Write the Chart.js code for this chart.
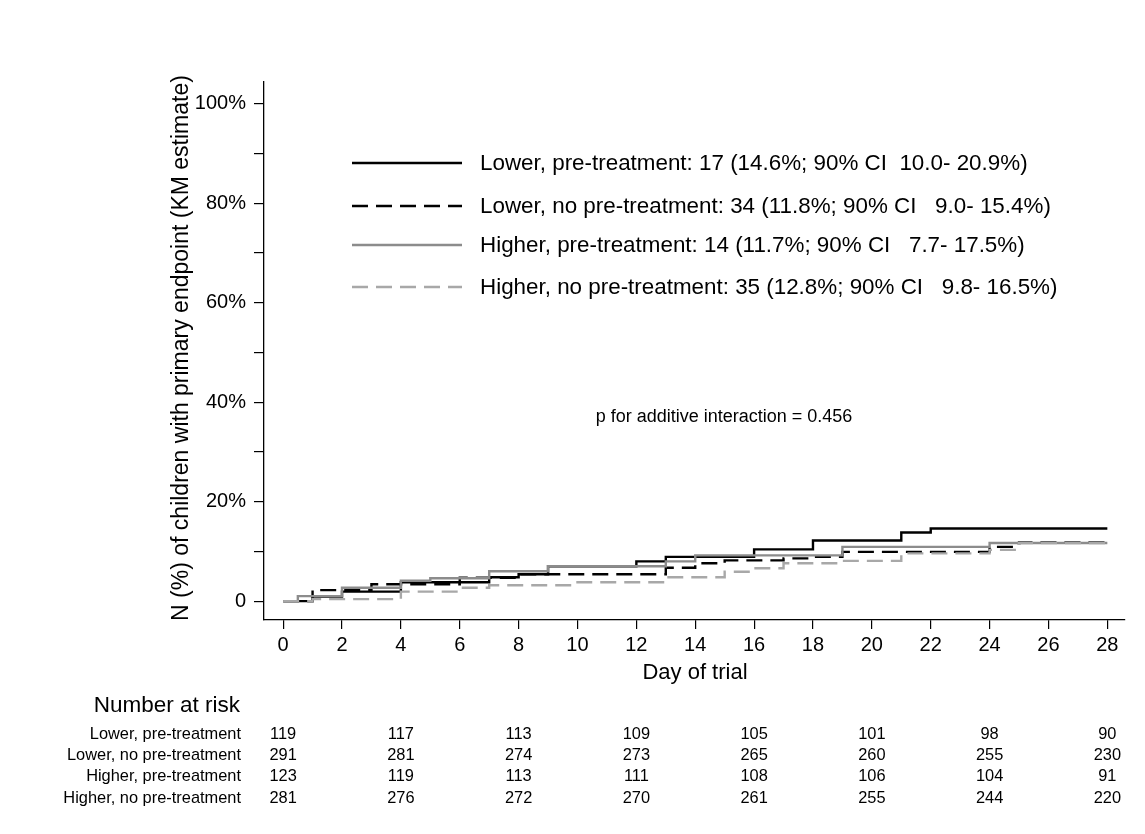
<!DOCTYPE html>
<html>
<head>
<meta charset="utf-8">
<script src="https://cdn.jsdelivr.net/npm/chart.js@4/dist/chart.umd.min.js"></script>
<style>
  html, body { margin: 0; padding: 0; background: #fff; }
  #wrap { width: 1145px; height: 834px; position: relative; }
</style>
</head>
<body>
<div id="wrap"><canvas id="c" width="1145" height="834"></canvas></div>
<script>
// ---- Data ----
const xTickDays = [0, 2, 4, 6, 8, 10, 12, 14, 16, 18, 20, 22, 24, 26, 28];
const yTickValues = [0, 10, 20, 30, 40, 50, 60, 70, 80, 90, 100];

const lowerPreTimes  = [0, 1, 2, 4, 7, 8, 9, 12, 13, 16, 18, 21, 22, 28];
const lowerPreValues = [0, 0.9, 1.9, 3.8, 4.8, 5.4, 7.0, 8.0, 8.9, 10.4, 12.2, 13.8, 14.6, 14.6];

const lowerNoPreTimes  = [0, 1, 3, 6, 8, 13, 14, 15, 17, 18, 19, 24, 25, 28];
const lowerNoPreValues = [0, 2.2, 3.4, 4.7, 5.4, 6.7, 7.6, 8.2, 8.6, 8.9, 9.9, 10.9, 11.8, 11.8];

const higherPreTimes  = [0, 0.5, 2, 4, 5, 7, 9, 13, 14, 19, 24, 28];
const higherPreValues = [0, 1.0, 2.7, 4.1, 4.6, 6.0, 7.0, 8.0, 9.2, 10.9, 11.7, 11.7];

const higherNoPreTimes  = [0, 1, 4, 6, 7, 10, 13, 15, 16, 17, 19, 21, 24, 25, 28];
const higherNoPreValues = [0, 0.4, 1.9, 2.7, 3.2, 3.8, 4.8, 5.9, 6.6, 7.6, 8.1, 9.6, 10.3, 11.7, 12.8];

const seriesLabels = [
  "Lower, pre-treatment: 17 (14.6%; 90% CI  10.0- 20.9%)",
  "Lower, no pre-treatment: 34 (11.8%; 90% CI   9.0- 15.4%)",
  "Higher, pre-treatment: 14 (11.7%; 90% CI   7.7- 17.5%)",
  "Higher, no pre-treatment: 35 (12.8%; 90% CI   9.8- 16.5%)"
];
const riskRowLabels = ["Lower, pre-treatment", "Lower, no pre-treatment", "Higher, pre-treatment", "Higher, no pre-treatment"];
const riskDays = [0, 4, 8, 12, 16, 20, 24, 28];
const riskLowerPre    = [119, 117, 113, 109, 105, 101, 98, 90];
const riskLowerNoPre  = [291, 281, 274, 273, 265, 260, 255, 230];
const riskHigherPre   = [123, 119, 113, 111, 108, 106, 104, 91];
const riskHigherNoPre = [281, 276, 272, 270, 261, 255, 244, 220];

const annotationText = "p for additive interaction = 0.456";
const xTitle = "Day of trial";
const yTitle = "N (%) of children with primary endpoint (KM estimate)";

// ---- Build ----
const FONT = "'Liberation Sans', Arial, Helvetica, sans-serif";
const toPts = (t, v) => t.map((x, i) => ({ x: x, y: v[i] }));
const styles = [
  { color: '#000000', dash: [] },
  { color: '#000000', dash: [16, 8] },
  { color: '#8c8c8c', dash: [] },
  { color: '#a8a8a8', dash: [16, 8] }
];
const seriesData = [
  toPts(lowerPreTimes, lowerPreValues),
  toPts(lowerNoPreTimes, lowerNoPreValues),
  toPts(higherPreTimes, higherPreValues),
  toPts(higherNoPreTimes, higherNoPreValues)
];
const riskRows = [riskLowerPre, riskLowerNoPre, riskHigherPre, riskHigherNoPre];

// draw order: gray dashed first, black solid last
const order = [3, 2, 1, 0];
const datasets = order.map(i => ({
  label: seriesLabels[i],
  data: seriesData[i],
  borderColor: styles[i].color,
  borderDash: styles[i].dash,
  borderWidth: 2.4,
  stepped: 'before',
  pointRadius: 0,
  fill: false,
  tension: 0
}));

const overlay = {
  id: 'overlay',
  afterDraw(chart) {
    const ctx = chart.ctx;
    const xs = chart.scales.x;
    ctx.save();
    ctx.fillStyle = '#000';
    // y title
    ctx.save();
    ctx.translate(182, 348);
    ctx.rotate(-Math.PI / 2);
    ctx.font = '23px ' + FONT;
    ctx.textAlign = 'center';
    ctx.textBaseline = 'middle';
    ctx.fillText(yTitle, 0, 0);
    ctx.restore();
    // x title
    ctx.font = '22px ' + FONT;
    ctx.textAlign = 'center';
    ctx.textBaseline = 'middle';
    ctx.fillText(xTitle, 695, 673);
    // legend
    const legY = [163, 206, 245, 287];
    for (let i = 0; i < 4; i++) {
      ctx.beginPath();
      ctx.setLineDash(styles[i].dash);
      ctx.strokeStyle = styles[i].color;
      ctx.lineWidth = 2.4;
      ctx.moveTo(352, legY[i]);
      ctx.lineTo(462, legY[i]);
      ctx.stroke();
      ctx.setLineDash([]);
      ctx.font = '22.4px ' + FONT;
      ctx.textAlign = 'left';
      ctx.textBaseline = 'middle';
      ctx.fillStyle = '#000';
      ctx.fillText(seriesLabels[i], 480, legY[i] + 1);
    }
    // annotation
    ctx.font = '18px ' + FONT;
    ctx.textAlign = 'center';
    ctx.fillText(annotationText, 724, 417);
    // number at risk
    ctx.font = '22.5px ' + FONT;
    ctx.textAlign = 'right';
    ctx.fillText('Number at risk', 240, 706);
    const rowY = [734, 755, 776, 798];
    ctx.font = '16.4px ' + FONT;
    for (let r = 0; r < 4; r++) {
      ctx.textAlign = 'right';
      ctx.fillText(riskRowLabels[r], 241, rowY[r]);
      ctx.textAlign = 'center';
      riskDays.forEach((d, k) => {
        ctx.fillText(String(riskRows[r][k]), xs.getPixelForValue(d), rowY[r]);
      });
    }
    ctx.restore();
  }
};

new Chart(document.getElementById('c'), {
  type: 'line',
  data: { datasets: datasets },
  options: {
    responsive: false,
    animation: false,
    layout: { padding: { top: 82, right: 20, left: 0, bottom: 0 } },
    plugins: { legend: { display: false }, tooltip: { enabled: false } },
    scales: {
      x: {
        type: 'linear',
        min: -0.65,
        max: 28.6,
        afterBuildTicks: s => { s.ticks = xTickDays.map(v => ({ value: v })); },
        afterFit: s => { s.height = 214; },
        ticks: { color: '#000', font: { family: FONT, size: 20 }, padding: 4, maxRotation: 0, autoSkip: false },
        grid: { drawOnChartArea: false, drawTicks: true, tickLength: 9, color: '#000', lineWidth: 1.2 },
        border: { display: true, color: '#000', width: 1.3 }
      },
      y: {
        type: 'linear',
        min: -3.8,
        max: 104.4,
        afterBuildTicks: s => { s.ticks = yTickValues.map(v => ({ value: v })); },
        afterFit: s => { s.width = 264; },
        ticks: {
          color: '#000', font: { family: FONT, size: 20 }, padding: 8, autoSkip: false,
          callback: v => (v % 20 === 0 ? (v === 0 ? '0' : v + '%') : '')
        },
        grid: { drawOnChartArea: false, drawTicks: true, tickLength: 10, color: '#000', lineWidth: 1.2 },
        border: { display: true, color: '#000', width: 1.3 }
      }
    }
  },
  plugins: [overlay]
});
</script>
</body>
</html>
